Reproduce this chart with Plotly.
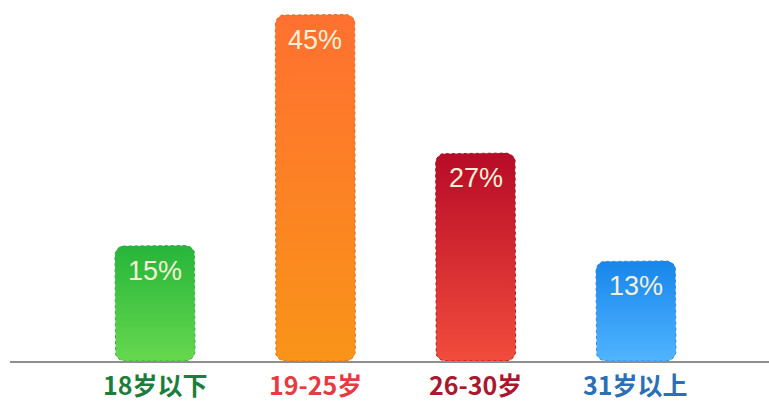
import numpy as np
import plotly.graph_objects as go

categories = ["18岁以下", "19-25岁", "26-30岁", "31岁以上"]
values = [15, 45, 27, 13]
value_labels = ["15%", "45%", "27%", "13%"]
label_colors = ["#1c7d3c", "#e53b42", "#a8192f", "#2b6fb5"]
top_colors = ["#26b53a", "#ff7030", "#b70b27", "#1786ec"]
bottom_colors = ["#66d84e", "#f99418", "#f24c3c", "#50b4ff"]
edge_colors = ["#3aa84a", "#e06a20", "#a81426", "#3a86d8"]

W, H = 769, 408
ml, mr, mt, mb = 10, 0, 0, 47
px_per_unit = 160.33
px_per_pct = 7.7
xmin = -145 / px_per_unit
xmax = xmin + (W - ml - mr) / px_per_unit
ymax = (H - mt - mb) / px_per_pct

half_w = 40 / px_per_unit
rx = 10 / px_per_unit
ry = 10 / px_per_pct


def rounded_rect(xc, top):
    x0, x1 = xc - half_w, xc + half_w
    y0, y1 = 0, top
    t = np.linspace(0, np.pi / 2, 10)
    xs, ys = [], []
    for a in t:
        xs.append(x1 - rx + rx * np.sin(a)); ys.append(y0 + ry - ry * np.cos(a))
    for a in t:
        xs.append(x1 - rx + rx * np.cos(a)); ys.append(y1 - ry + ry * np.sin(a))
    for a in t:
        xs.append(x0 + rx - rx * np.sin(a)); ys.append(y1 - ry + ry * np.cos(a))
    for a in t:
        xs.append(x0 + rx - rx * np.cos(a)); ys.append(y0 + ry - ry * np.sin(a))
    xs.append(xs[0]); ys.append(ys[0])
    return xs, ys


fig = go.Figure()
for i, (cat, v) in enumerate(zip(categories, values)):
    xs, ys = rounded_rect(i, v)
    fig.add_trace(go.Scatter(
        x=xs, y=ys, mode="lines", fill="toself",
        line=dict(color=edge_colors[i], width=1, dash="dot"),
        fillgradient=dict(type="vertical",
                          colorscale=[[0, bottom_colors[i]], [1, top_colors[i]]]),
        hoverinfo="skip", showlegend=False,
    ))
    fig.add_annotation(x=i, y=v, xref="x", yref="y", text=value_labels[i],
                       showarrow=False, yanchor="middle", yshift=-25,
                       font=dict(family="Liberation Sans", size=27, color="#f4f0d8"))
    fig.add_annotation(x=i, y=0, xref="x", yref="y", text="<b>" + cat + "</b>",
                       showarrow=False, yanchor="middle", yshift=-23,
                       font=dict(family="Noto Sans CJK SC", size=25, color=label_colors[i]))

fig.update_layout(
    width=W, height=H,
    margin=dict(l=ml, r=mr, t=mt, b=mb),
    paper_bgcolor="white", plot_bgcolor="white",
    xaxis=dict(range=[xmin, xmax], showgrid=False, zeroline=False,
               showticklabels=False, ticks="", showline=True,
               linecolor="#8e8e8e", linewidth=2, fixedrange=True),
    yaxis=dict(range=[0, ymax], showgrid=False, zeroline=False,
               showticklabels=False, ticks="", showline=False, fixedrange=True),
)

fig.write_html("out.html")
